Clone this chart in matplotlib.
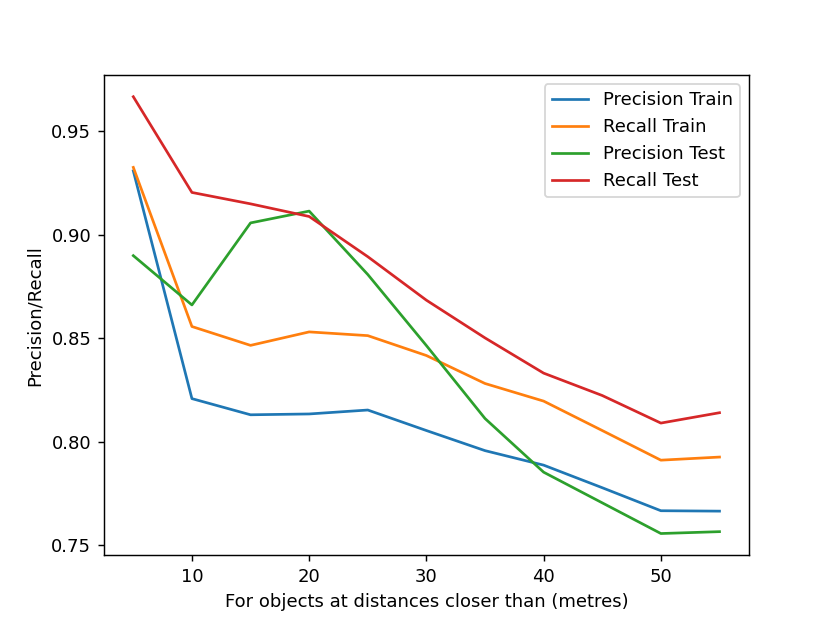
import matplotlib
matplotlib.use("Agg")
import matplotlib.pyplot as plt

# distances (metres)
dist = [5, 10, 15, 20, 25, 30, 35, 40, 45, 50, 55]

prec_train = [0.9307, 0.8208, 0.8130, 0.8134, 0.8153, 0.8054, 0.7957, 0.7887, 0.7778, 0.7667, 0.7665]
rec_train = [0.9324, 0.8556, 0.8465, 0.8530, 0.8512, 0.8416, 0.8281, 0.8196, 0.8054, 0.7911, 0.7926]
prec_test = [0.8898, 0.8660, 0.9056, 0.9113, 0.8807, 0.8464, 0.8112, 0.7853, 0.7705, 0.7557, 0.7566]
rec_test = [0.9665, 0.9203, 0.9148, 0.9087, 0.8893, 0.8683, 0.8501, 0.8331, 0.8223, 0.8090, 0.8140]

fig = plt.figure(figsize=(6.4, 4.8), dpi=130)
plt.plot(dist, prec_train, label="Precision Train")
plt.plot(dist, rec_train, label="Recall Train")
plt.plot(dist, prec_test, label="Precision Test")
plt.plot(dist, rec_test, label="Recall Test")
plt.xlabel("For objects at distances closer than (metres)")
plt.ylabel("Precision/Recall")
plt.legend(loc="upper right")
plt.savefig("out.png")
